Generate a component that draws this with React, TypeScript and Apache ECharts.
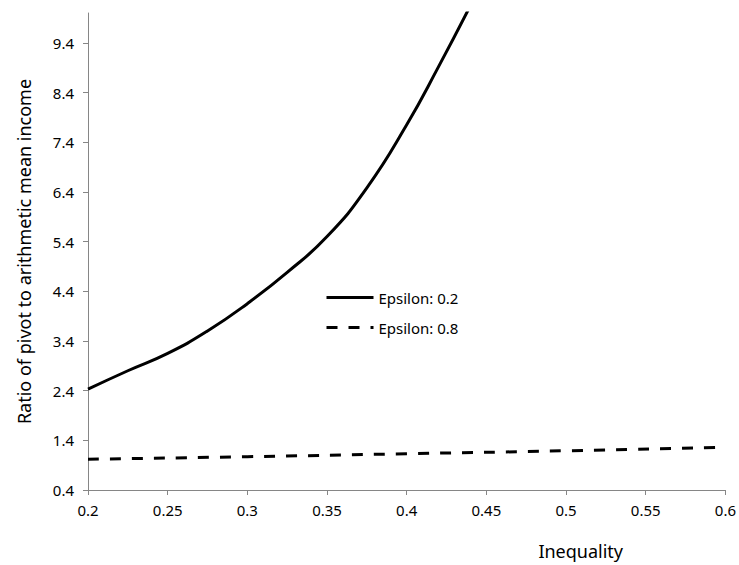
import React, { useEffect, useRef } from "react";
import * as echarts from "echarts";

const xTicks = [0.2, 0.25, 0.3, 0.35, 0.4, 0.45, 0.5, 0.55, 0.6];
const yTicks = [0.4, 1.4, 2.4, 3.4, 4.4, 5.4, 6.4, 7.4, 8.4, 9.4];

const epsilon02X = [0.2, 0.225, 0.25, 0.275, 0.3, 0.325, 0.35, 0.375, 0.4, 0.42, 0.44];
const epsilon02Y = [2.43, 2.8, 3.15, 3.6, 4.15, 4.78, 5.5, 6.48, 7.75, 8.92, 10.15];

const epsilon08X = [0.2, 0.3, 0.4, 0.5, 0.6];
const epsilon08Y = [1.02, 1.07, 1.13, 1.19, 1.26];

const FONT = "Noto Sans";

export default function App() {
  const ref = useRef<HTMLDivElement>(null);
  useEffect(() => {
    document.body.style.margin = "0";
    if (!ref.current) return;
    const chart = echarts.init(ref.current, undefined, { renderer: "svg" });
    chart.setOption({
      animation: false,
      backgroundColor: "#ffffff",
      textStyle: { fontFamily: FONT },
      grid: { left: 88, right: 12, top: 13, bottom: 70, containLabel: false },
      legend: {
        orient: "vertical",
        left: 320,
        top: 285,
        itemWidth: 47,
        itemHeight: 14,
        itemGap: 15,
        itemStyle: { opacity: 0 },
        lineStyle: { width: 3 },
        textStyle: { fontFamily: FONT, fontSize: 15, color: "#000" },
        data: ["Epsilon: 0.2", "Epsilon: 0.8"],
      },
      xAxis: {
        type: "value",
        min: 0.2,
        max: 0.6,
        name: "Inequality",
        nameLocation: "middle",
        nameGap: 52,
        nameTextStyle: { fontFamily: FONT, fontSize: 18, color: "#000", padding: [0, 0, 0, 348] },
        axisLine: { show: true, lineStyle: { color: "#868686" } },
        axisTick: { show: true, length: 5, lineStyle: { color: "#868686" }, customValues: xTicks },
        axisLabel: {
          customValues: xTicks,
          margin: 12,
          fontFamily: FONT,
          fontSize: 15,
          color: "#000",
          formatter: (v: number) => String(Math.round(v * 100) / 100),
        },
        splitLine: { show: false },
      },
      yAxis: {
        type: "value",
        min: 0.4,
        max: 10,
        name: "Ratio of pivot to arithmetic mean income",
        nameLocation: "middle",
        nameGap: 55,
        nameTextStyle: { fontFamily: FONT, fontSize: 18, color: "#000" },
        axisLine: { show: true, lineStyle: { color: "#868686" } },
        axisTick: { show: true, length: 5, lineStyle: { color: "#868686" }, customValues: yTicks },
        axisLabel: {
          customValues: yTicks,
          margin: 14,
          fontFamily: FONT,
          fontSize: 15,
          color: "#000",
          formatter: (v: number) => v.toFixed(1),
        },
        splitLine: { show: false },
      },
      series: [
        {
          name: "Epsilon: 0.2",
          type: "line",
          smooth: 0.5,
          symbol: "none",
          clip: true,
          color: "#000",
          lineStyle: { color: "#000", width: 3 },
          data: epsilon02X.map((x, i) => [x, epsilon02Y[i]]),
        },
        {
          name: "Epsilon: 0.8",
          type: "line",
          smooth: true,
          symbol: "none",
          clip: true,
          color: "#000",
          lineStyle: { color: "#000", width: 3, type: [11, 11] },
          data: epsilon08X.map((x, i) => [x, epsilon08Y[i]]),
        },
      ],
    });
    return () => chart.dispose();
  }, []);
  return <div ref={ref} style={{ width: 739, height: 565 }} />;
}
